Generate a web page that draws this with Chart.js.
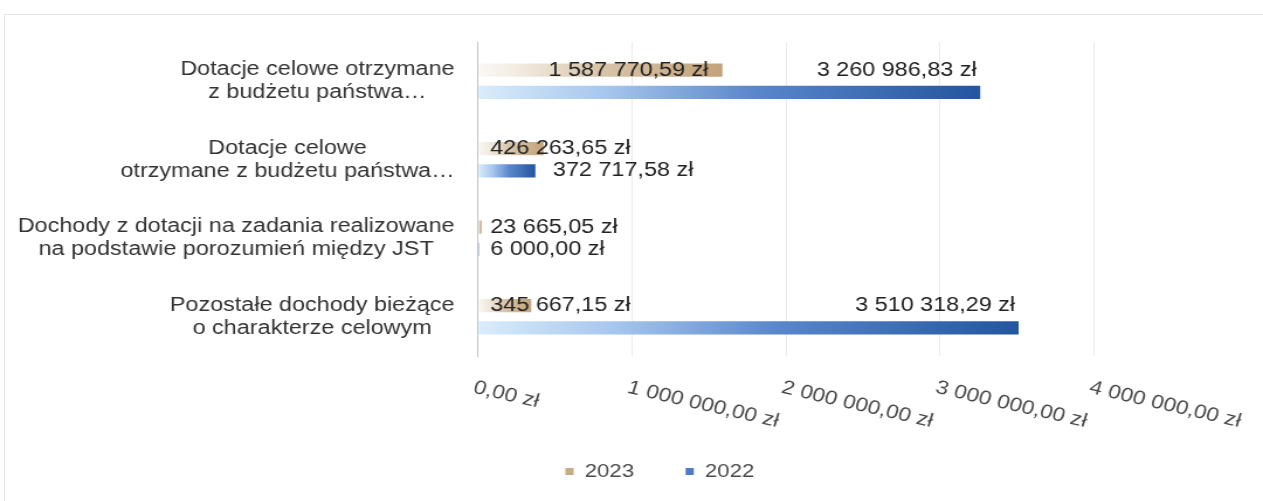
<!DOCTYPE html>
<html lang="pl">
<head>
<meta charset="utf-8">
<title>Dochody celowe 2023 / 2022</title>
<script src="https://cdn.jsdelivr.net/npm/chart.js@4.4.1/dist/chart.umd.min.js"></script>
<style>
    html, body {
        margin: 0;
        width: 1263px;
        height: 501px;
        overflow: hidden;
        background: #fff;
    }

    .frame {
        position: absolute;
        left: 4px;
        top: 14px;
        width: 1270px;
        height: 500px;
        border: 1px solid #e4e4e4;
    }

    /* canvas is drawn 1080 wide and stretched to the page width (1263 / 1080) */
    #revenue-chart {
        position: absolute;
        left: 0;
        top: 0;
        transform-origin: 0 0;
        transform: scaleX(1.16944);
    }
</style>
</head>
<body>
<div class="frame"></div>
<canvas id="revenue-chart" width="1080" height="501"></canvas>

<script>
// Data =========================================================//

const categories = [
    ['Dotacje celowe otrzymane', 'z budżetu państwa…'],
    ['Dotacje celowe', 'otrzymane z budżetu państwa…'],
    ['Dochody z dotacji na zadania realizowane', 'na podstawie porozumień między JST'],
    ['Pozostałe dochody bieżące', 'o charakterze celowym']
];

const years = ['2023', '2022'];

const values2023 = [1587770.59, 426263.65, 23665.05, 345667.15];
const values2022 = [3260986.83, 372717.58, 6000.00, 3510318.29];

const axisMax = 4000000;
const axisStep = 1000000;

// Data =========================================================//


// Styles =========================================================//

const FONT_FAMILY = "'Liberation Sans', Arial, sans-serif";

const TAN_STOPS = [[0, 'rgba(238,229,215,0.3)'], [0.45, '#dbc8ae'], [1, '#c3a37b']];
const BLUE_STOPS = [[0, '#d9edfb'], [0.25, '#a8c7ee'], [0.55, '#5a87cb'], [1, '#23569e']];
const legendColors = ['#c6ab86', '#4d7cc3'];

// where each value label sits: 'in' = inside the bar end (or from the base if too long),
// 'out' = past the bar end, 'above' = right-aligned on the row of the other series
const labelPlacement = [
    ['in', 'in', 'in', 'in'],
    ['above', 'out', 'in', 'above']
];

// Styles =========================================================//


function formatZl(v) {
    const parts = v.toFixed(2).split('.');
    return parts[0].replace(/\B(?=(\d{3})+(?!\d))/g, ' ') + ',' + parts[1] + ' zł';
}

// gradient runs along each bar, from the axis to the end of the bar
function barGradient(stops) {
    return (context) => {
        const chart = context.chart;
        const last = stops[stops.length - 1][1];
        if (!chart.chartArea || !chart.scales.x) return last;
        const x0 = chart.scales.x.getPixelForValue(0);
        const x1 = chart.scales.x.getPixelForValue(context.raw);
        if (x1 - x0 < 1) return last;
        const g = chart.ctx.createLinearGradient(x0, 0, x1, 0);
        stops.forEach(([offset, color]) => g.addColorStop(offset, color));
        return g;
    };
}


// Plugins =========================================================//

// category names: each block right-aligned to the axis, lines centred inside it
const categoryLabels = {
    id: 'categoryLabels',
    afterDraw(chart) {
        const ctx = chart.ctx;
        const yScale = chart.scales.y;
        const right = chart.chartArea.left - 20;
        const lineHeight = 23;

        ctx.save();
        ctx.font = '20px ' + FONT_FAMILY;
        ctx.fillStyle = '#333';
        ctx.textAlign = 'center';
        ctx.textBaseline = 'middle';

        categories.forEach((lines, i) => {
            const y = yScale.getPixelForTick(i);
            const widest = Math.max(...lines.map(l => ctx.measureText(l).width));
            const cx = right - widest / 2;
            lines.forEach((line, j) => {
                ctx.fillText(line, cx, y + (j - (lines.length - 1) / 2) * lineHeight);
            });
        });
        ctx.restore();
    }
};

// slanted money labels under the value axis
const moneyTicks = {
    id: 'moneyTicks',
    afterDraw(chart) {
        const ctx = chart.ctx;
        const xScale = chart.scales.x;
        const top = chart.chartArea.bottom + 22;

        ctx.save();
        ctx.font = '19.5px ' + FONT_FAMILY;
        ctx.fillStyle = '#4a4a4a';
        ctx.textAlign = 'left';
        ctx.textBaseline = 'top';

        xScale.ticks.forEach((tick) => {
            const x = xScale.getPixelForValue(tick.value);
            ctx.save();
            ctx.translate(x - 1, top);
            ctx.rotate(15 * Math.PI / 180);
            ctx.fillText(formatZl(tick.value), 0, 0);
            ctx.restore();
        });
        ctx.restore();
    }
};

// value labels next to / inside the bars
const valueLabels = {
    id: 'valueLabels',
    afterDatasetsDraw(chart) {
        const ctx = chart.ctx;

        ctx.save();
        ctx.font = '20px ' + FONT_FAMILY;
        ctx.fillStyle = '#222';
        ctx.textAlign = 'left';
        ctx.textBaseline = 'middle';

        chart.data.datasets.forEach((dataset, di) => {
            const meta = chart.getDatasetMeta(di);
            meta.data.forEach((bar, i) => {
                const text = formatZl(dataset.data[i]);
                const w = ctx.measureText(text).width;
                const place = labelPlacement[di][i];
                let x;
                let y = bar.y;

                if (place === 'out') {
                    x = bar.x + 15;
                } else if (place === 'above') {
                    x = bar.x - 3 - w;
                    y = chart.getDatasetMeta(1 - di).data[i].y;
                } else {
                    x = Math.max(bar.x - 12 - w, bar.base + 10);
                }
                ctx.fillText(text, x, y);
            });
        });
        ctx.restore();
    }
};

// Plugins =========================================================//


// Revenue Chart =========================================================//

const revenueCanvas = document.getElementById('revenue-chart');

const revenueData = {
    labels: categories,
    datasets: [{
        label: years[0],
        data: values2023,
        backgroundColor: barGradient(TAN_STOPS),
        categoryPercentage: 0.5625,
        barPercentage: 0.6
    }, {
        label: years[1],
        data: values2022,
        backgroundColor: barGradient(BLUE_STOPS),
        categoryPercentage: 0.5625,
        barPercentage: 0.6
    }]
};

const revenueConfig = {
    type: 'bar',
    data: revenueData,
    options: {
        indexAxis: 'y',
        responsive: false,
        animation: false,
        layout: {
            padding: { top: 42, left: 193, right: 144.5, bottom: 10 }
        },
        scales: {
            x: {
                min: 0,
                max: axisMax,
                ticks: { stepSize: axisStep, display: false },
                grid: {
                    color: (c) => c.index === 0 ? 'rgba(0,0,0,0)' : '#ebebeb',
                    drawTicks: false
                },
                border: { display: false },
                afterFit: (scale) => { scale.height = 62; }
            },
            y: {
                ticks: { display: false },
                grid: { display: false, drawTicks: false },
                border: { display: true, color: '#c4c4c4', dash: [2, 2] },
                afterFit: (scale) => { scale.width = 215.7; }
            }
        },
        plugins: {
            legend: {
                position: 'bottom',
                labels: {
                    boxWidth: 7,
                    boxHeight: 7,
                    padding: 44,
                    color: '#4a4a4a',
                    font: { family: FONT_FAMILY, size: 19 },
                    generateLabels: (chart) => Chart.defaults.plugins.legend.labels.generateLabels(chart)
                        .map((item, i) => ({ ...item, fillStyle: legendColors[i], strokeStyle: legendColors[i], lineWidth: 0 }))
                }
            },
            tooltip: { enabled: false }
        }
    },
    plugins: [categoryLabels, valueLabels, moneyTicks]
};

const revenueChart = new Chart(revenueCanvas, revenueConfig);

// Revenue Chart =========================================================//
</script>
</body>
</html>
